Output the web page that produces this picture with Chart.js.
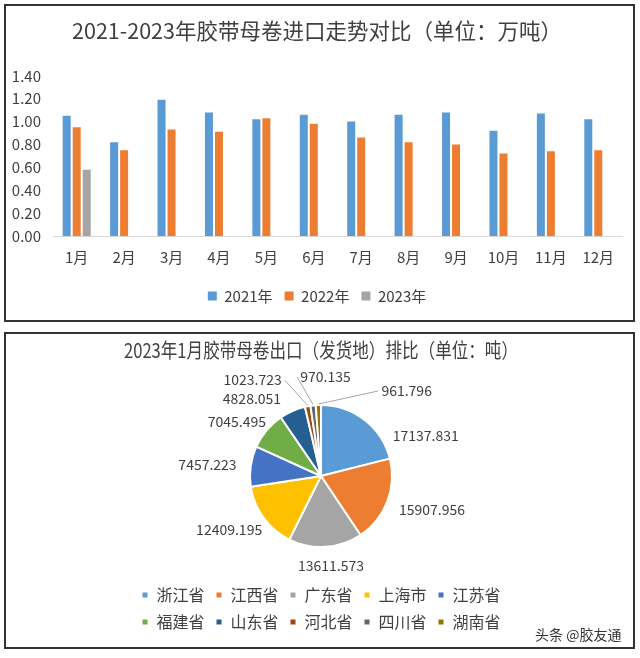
<!DOCTYPE html>
<html>
<head>
    <meta charset="utf-8"/>
    <title>胶带母卷进出口</title>
    <script src="https://cdn.jsdelivr.net/npm/chart.js"></script>
    <style>
        body {
            margin: 0;
            background: #fff;
            width: 640px;
            height: 658px;
            position: relative;
            font-family: 'Noto Sans CJK SC', 'Noto Sans', sans-serif;
        }
        .box {
            position: absolute;
            left: 4px;
            width: 627px;
            border: 2px solid #333;
            background: #fff;
        }
        #box1 { top: 4px; height: 314px; }
        #box2 { top: 332px; height: 313px; }
        .box canvas { display: block; }
        #mark {
            position: absolute;
            left: 535px;
            top: 624px;
            font-size: 14px;
            color: #333;
        }
    </style>
</head>
<body>
    <div class="box" id="box1"><canvas id="barChart" width="627" height="314"></canvas></div>
    <div class="box" id="box2"><canvas id="pieChart" width="627" height="313"></canvas></div>
    <div id="mark">头条 @胶友通</div>

    <script>
        // 进口（万吨）
        const months = ['1月', '2月', '3月', '4月', '5月', '6月', '7月', '8月', '9月', '10月', '11月', '12月'];
        const import2021 = [1.05, 0.82, 1.19, 1.08, 1.02, 1.06, 1.00, 1.06, 1.08, 0.92, 1.07, 1.02];
        const import2022 = [0.95, 0.75, 0.93, 0.91, 1.03, 0.98, 0.86, 0.82, 0.80, 0.72, 0.74, 0.75];
        const import2023 = [0.58, null, null, null, null, null, null, null, null, null, null, null];
        const yTicks = [0, 0.2, 0.4, 0.6, 0.8, 1.0, 1.2, 1.4];

        // 2023年1月出口（吨）
        const provinces = ['浙江省', '江西省', '广东省', '上海市', '江苏省', '福建省', '山东省', '河北省', '四川省', '湖南省'];
        const provinceValues = [17137.831, 15907.956, 13611.573, 12409.195, 7457.223, 7045.495, 4828.051, 1023.723, 970.135, 961.796];

        const FONT = "'Noto Sans CJK SC', 'Noto Sans', sans-serif";
        Chart.defaults.font.family = FONT;
        Chart.defaults.color = '#404040';

        // 柱状图
        new Chart(document.getElementById('barChart'), {
            type: 'bar',
            data: {
                labels: months,
                datasets: [
                    { label: '2021年', data: import2021, backgroundColor: '#5B9BD5' },
                    { label: '2022年', data: import2022, backgroundColor: '#ED7D31' },
                    { label: '2023年', data: import2023, backgroundColor: '#A5A5A5' }
                ]
            },
            options: {
                responsive: false,
                animation: false,
                categoryPercentage: 0.633,
                barPercentage: 0.8,
                layout: { padding: { left: 6, right: 11, bottom: 6.5, top: 0 } },
                plugins: {
                    title: {
                        display: true,
                        text: '2021-2023年胶带母卷进口走势对比（单位：万吨）',
                        font: { size: 21.5, weight: 'normal' },
                        color: '#404040',
                        padding: { top: 12, bottom: 32 }
                    },
                    legend: {
                        position: 'bottom',
                        labels: { boxWidth: 9, boxHeight: 9, padding: 12, font: { size: 15 }, color: '#404040' }
                    },
                    tooltip: { enabled: false }
                },
                scales: {
                    x: {
                        grid: { display: false, drawTicks: false },
                        border: { display: true, color: '#d9d9d9', width: 1 },
                        ticks: { padding: 12, font: { size: 15 }, color: '#404040' },
                        afterFit(scale) { scale.height = 40.5; }
                    },
                    y: {
                        min: 0,
                        max: yTicks[yTicks.length - 1],
                        grid: { display: false, drawTicks: false },
                        border: { display: false },
                        afterBuildTicks(scale) { scale.ticks = yTicks.map(v => ({ value: v })); },
                        afterFit(scale) { scale.width = 41; },
                        ticks: {
                            padding: 12,
                            font: { size: 15 },
                            color: '#404040',
                            callback: v => Number(v).toFixed(2)
                        }
                    }
                }
            }
        });

        // 饼图数值标签
        const pieLabels = {
            id: 'pieLabels',
            afterDatasetsDraw(chart, args, opts) {
                const ctx = chart.ctx;
                const meta = chart.getDatasetMeta(0);
                const total = provinceValues.reduce((a, b) => a + b, 0);
                ctx.save();
                ctx.font = opts.font;
                ctx.textAlign = 'center';
                ctx.textBaseline = 'middle';
                meta.data.forEach((arc, i) => {
                    const p = arc.getProps(['x', 'y', 'startAngle', 'endAngle', 'outerRadius'], true);
                    const spot = opts.spots[i];
                    const a = spot[0] * Math.PI / 180;
                    const lx = p.x + Math.cos(a) * p.outerRadius * spot[1];
                    const ly = p.y + Math.sin(a) * p.outerRadius * spot[1];
                    const text = provinceValues[i].toFixed(3);
                    if (provinceValues[i] / total < 0.02) {
                        // 小扇区加引导线
                        const mid = (p.startAngle + p.endAngle) / 2;
                        const sx = p.x + Math.cos(mid) * (p.outerRadius + 1);
                        const sy = p.y + Math.sin(mid) * (p.outerRadius + 1);
                        const w = ctx.measureText(text).width;
                        const ex = lx > sx ? lx - w / 2 - 3 : lx + w / 2 + 3;
                        ctx.beginPath();
                        ctx.moveTo(sx, sy);
                        ctx.lineTo(ex, ly);
                        ctx.strokeStyle = opts.lineColor;
                        ctx.lineWidth = 1;
                        ctx.stroke();
                    }
                    ctx.fillStyle = opts.color;
                    ctx.fillText(text, lx, ly);
                });
                ctx.restore();
            }
        };

        // 饼图
        new Chart(document.getElementById('pieChart'), {
            type: 'pie',
            data: {
                labels: provinces,
                datasets: [{
                    data: provinceValues,
                    backgroundColor: ['#5B9BD5', '#ED7D31', '#A5A5A5', '#FFC000', '#4472C4',
                                      '#70AD47', '#255E91', '#9E480E', '#636363', '#997300'],
                    borderColor: '#fff',
                    borderWidth: 2
                }]
            },
            options: {
                responsive: false,
                animation: false,
                radius: 71,
                layout: { padding: { left: 118, right: 115, bottom: 7, top: 0 } },
                plugins: {
                    title: {
                        display: true,
                        text: '2023年1月胶带母卷出口（发货地）排比（单位：吨）',
                        font: { size: 20, weight: 'normal' },
                        color: '#404040',
                        padding: { top: 4, bottom: 14 }
                    },
                    legend: {
                        position: 'bottom',
                        labels: { boxWidth: 7, boxHeight: 7, padding: 11, font: { size: 16 }, color: '#404040' }
                    },
                    tooltip: { enabled: false },
                    pieLabels: {
                        font: "14px " + FONT,
                        color: '#404040',
                        lineColor: '#a6a6a6',
                        // [角度, 半径倍数]
                        spots: [[-21, 1.58], [17, 1.635], [83.7, 1.275], [149.6, 1.5], [185.5, 1.606],
                                [212.7, 1.407], [228.1, 1.456], [234.5, 1.66], [272.6, 1.395], [315.2, 1.7]]
                    }
                }
            },
            plugins: [pieLabels]
        });
    </script>
</body>
</html>
